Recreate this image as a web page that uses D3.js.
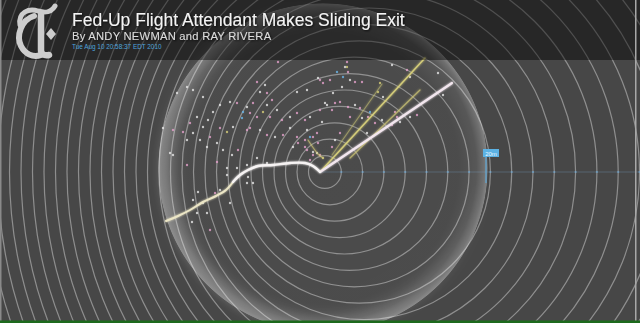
<!DOCTYPE html>
<html>
<head>
<meta charset="utf-8">
<script src="https://cdn.jsdelivr.net/npm/d3@7"></script>
<style>
html, body { margin: 0; padding: 0; background: #474747; overflow: hidden; }
svg { display: block; }
</style>
</head>
<body>
<div id="chart"></div>
<script>
//Width and height
var w = 640;
var h = 323;

//Header texts
var titleText = "Fed-Up Flight Attendant Makes Sliding Exit";
var bylineText = "By ANDY NEWMAN and RAY RIVERA";
var dateText = "Tue Aug 10 20:58:37 EDT 2010";

//Tweets: [east, north, kind] measured from the first tweet (p pink, w white, y yellow, b blue)
var tweetDots = [
    [-42,110,"p"],[-23,80,"w"],[-13,82,"w"],[3,89,"p"],[-2,94,"w"],[10,92,"p"],[17,100,"b"],[23,95,"b"],
    [27,105,"y"],[-63,90,"p"],[-55,87,"w"],[-60,80,"w"],[-53,79,"p"],[-48,72,"p"],[-53,67,"w"],[-67,69,"p"],
    [-73,65,"w"],[-83,69,"p"],[-90,70,"w"],[-77,60,"b"],[-78,54,"b"],[-70,59,"p"],[-63,55,"p"],[-57,60,"y"],
    [-50,55,"p"],[-43,62,"w"],[-38,52,"p"],[-30,55,"w"],[-23,59,"p"],[-15,52,"p"],[-10,55,"w"],[0,62,"p"],
    [7,67,"w"],[15,69,"p"],[12,62,"p"],[-70,44,"p"],[-73,42,"p"],[-60,42,"w"],[-53,37,"p"],[-45,35,"w"],
    [-37,37,"p"],[-30,44,"w"],[-23,35,"p"],[-15,32,"p"],[-10,35,"b"],[-3,39,"p"],[-22,29,"p"],[-27,25,"w"],
    [-13,22,"p"],[-7,17,"p"],[-10,12,"p"],[-3,19,"w"],[-100,67,"w"],[-107,60,"w"],[-112,52,"w"],[-117,45,"w"],
    [-123,55,"w"],[-130,49,"p"],[-137,40,"p"],[-127,39,"w"],[-120,32,"w"],[-110,35,"p"],[-103,29,"w"],[-93,40,"y"],
    [-87,45,"w"],[-127,82,"w"],[-117,75,"w"],[-133,85,"w"],[-143,79,"w"],[-147,42,"p"],[-133,32,"w"],[-113,25,"w"],
    [-97,22,"w"],[-88,17,"w"],[-82,22,"p"],[-150,19,"w"],[-157,44,"w"],[-100,44,"p"],[-13,42,"w"],
    [27,110,"p"],[25,105,"w"],[28,100,"p"],[30,92,"w"],[35,90,"p"],[42,90,"p"],[22,85,"w"],[0,92,"p"],
    [13,79,"w"],[5,69,"w"],[20,70,"p"],[28,65,"p"],[35,67,"w"],[40,64,"p"],[50,60,"b"],[48,55,"p"],
    [42,54,"w"],[55,49,"p"],[62,52,"w"],[60,89,"y"],[58,80,"y"],[63,75,"w"],[72,107,"w"],[87,102,"p"],
    [90,95,"w"],[118,99,"w"],[75,60,"p"],[77,55,"p"],[80,50,"w"],[72,47,"p"],[90,55,"w"],[97,57,"p"],
    [123,77,"w"],[-7,35,"p"],[-2,29,"p"],[-15,25,"p"],[-7,20,"w"],[0,17,"p"],[3,14,"y"],[12,25,"p"],
    [15,32,"w"],[20,39,"p"],[47,39,"w"],[30,55,"p"],[2,50,"w"],
    [-147,17,"w"],[-133,7,"p"],[-122,-20,"w"],[-127,-28,"w"],[-117,-31,"w"],[-113,-41,"w"],[-128,-50,"w"],
    [-110,-58,"p"],[-105,-21,"p"],[-100,-18,"w"],[-90,-31,"w"],[-73,-11,"w"],[-72,-5,"w"],[-67,-11,"w"],
    [-103,10,"p"],[-93,4,"w"],[-93,-3,"w"],[-83,4,"w"],[-73,7,"w"],[-63,14,"w"],[-53,9,"w"],[-123,-41,"w"]
];

//Retweet chains
var curveNear = [[0,0],[-7,6],[-15,9],[-30,9],[-47,7],[-62,6],[-72,2],[-80,-3],[-87,-10]];
var curveFar = [[-87,-10],[-94,-18],[-104,-24],[-117,-30],[-130,-38],[-142,-44],[-154,-49]];
var rayLong = [[0,0],[132,89]];
var rayHigh = [[0,0],[105,114]];
var rayMid = [[30,14],[100,82]];
var rayInner = [[12,17],[62,88]];
var rayShort = [[-12,32],[-2,18],[3,14]];

//Time marker on the east axis
var markerLabel = "20m";
var markerEast = 166;

var dotColor = {p: "#e6a2cc", w: "#e8e8e8", y: "#d8d07a", b: "#6cb6ea"};

//Scales: first tweet sits at (320,172)
var x = d3.scaleLinear().domain([-320, 320]).range([0, w]);
var y = d3.scaleLinear().domain([-151, 172]).range([h, 0]);

//Ring grid: radius and eastward drift per ring
var ringR = d3.scaleLinear().domain([0, 1]).range([0, 16.4]);
var ringDrift = d3.scaleLinear().domain([0, 1]).range([0, 4.9]);
var rings = d3.range(1, 46);
var axisTicks = d3.range(1, 16);
var tickStep = d3.scaleLinear().domain([0, 1]).range([0, 21.3]);

//Create SVG element
var svg = d3.select("#chart")
            .append("svg")
            .attr("width", w)
            .attr("height", h);

var defs = svg.append("defs");

//Lens edge: soft inner glow with a thin bright rim
var lens = defs.append("radialGradient").attr("id", "lens");
lens.append("stop").attr("offset", "0").attr("stop-color", "#fff").attr("stop-opacity", 0.02);
lens.append("stop").attr("offset", "0.82").attr("stop-color", "#fff").attr("stop-opacity", 0.025);
lens.append("stop").attr("offset", "0.93").attr("stop-color", "#fff").attr("stop-opacity", 0.09);
lens.append("stop").attr("offset", "0.975").attr("stop-color", "#fff").attr("stop-opacity", 0.22);
lens.append("stop").attr("offset", "0.995").attr("stop-color", "#fff").attr("stop-opacity", 0.32);
lens.append("stop").attr("offset", "1").attr("stop-color", "#fff").attr("stop-opacity", 0);

//Broader light on the lower left of the lens
var side = defs.append("linearGradient").attr("id", "side")
               .attr("x1", "0").attr("y1", "1").attr("x2", "1").attr("y2", "0");
side.append("stop").attr("offset", "0").attr("stop-color", "#fff").attr("stop-opacity", 0.2);
side.append("stop").attr("offset", "0.45").attr("stop-color", "#fff").attr("stop-opacity", 0.1);
side.append("stop").attr("offset", "0.75").attr("stop-color", "#fff").attr("stop-opacity", 0);

var soft = defs.append("filter").attr("id", "soft").attr("x", "-10%").attr("y", "-10%").attr("width", "120%").attr("height", "120%");
soft.append("feGaussianBlur").attr("stdDeviation", 4);

var glow = defs.append("filter").attr("id", "glow").attr("x", "-20%").attr("y", "-20%").attr("width", "140%").attr("height", "140%");
glow.append("feGaussianBlur").attr("stdDeviation", 1.2).attr("result", "b");
var gm = glow.append("feMerge");
gm.append("feMergeNode").attr("in", "b");
gm.append("feMergeNode").attr("in", "SourceGraphic");

var shadow = defs.append("filter").attr("id", "shadow");
shadow.append("feDropShadow").attr("dx", 1).attr("dy", 1).attr("stdDeviation", 0.8)
      .attr("flood-color", "#000").attr("flood-opacity", 0.8);

//Background
svg.append("rect").attr("width", w).attr("height", h).attr("fill", "#474747");

//Rings
svg.append("g")
   .selectAll("circle")
   .data(rings)
   .enter()
   .append("circle")
   .attr("cx", function(k) { return x(ringDrift(k)); })
   .attr("cy", y(0))
   .attr("r", function(k) { return ringR(k); })
   .attr("fill", "none")
   .attr("stroke", "#a0a0a0")
   .attr("stroke-width", 1.2)
   .attr("stroke-opacity", 0.8);

//Lens
var lensX = x(3), lensY = y(4), lensR = 165;
svg.append("circle")
   .attr("cx", lensX)
   .attr("cy", lensY)
   .attr("r", lensR - 8)
   .attr("fill", "none")
   .attr("stroke", "url(#side)")
   .attr("stroke-width", 16)
   .attr("filter", "url(#soft)");
svg.append("circle")
   .attr("cx", lensX)
   .attr("cy", lensY)
   .attr("r", lensR)
   .attr("fill", "url(#lens)");

//East axis
svg.append("line")
   .attr("x1", x(0)).attr("x2", w)
   .attr("y1", y(0)).attr("y2", y(0))
   .attr("stroke", "#7fb0d8")
   .attr("stroke-opacity", 0.28);

svg.append("g")
   .selectAll("rect")
   .data(axisTicks)
   .enter()
   .append("rect")
   .attr("x", function(k) { return x(tickStep(k)) - 1; })
   .attr("y", y(0) - 1)
   .attr("width", 2)
   .attr("height", 2)
   .attr("fill", "#6fb4e6")
   .attr("opacity", 0.45);

//Dots
svg.append("g")
   .selectAll("circle")
   .data(tweetDots)
   .enter()
   .append("circle")
   .attr("cx", function(d) { return x(d[0]); })
   .attr("cy", function(d) { return y(d[1]); })
   .attr("r", 1.2)
   .attr("fill", function(d) { return dotColor[d[2]]; })
   .attr("opacity", 0.8);

//Trails
var line = d3.line()
             .x(function(d) { return x(d[0]); })
             .y(function(d) { return y(d[1]); })
             .curve(d3.curveCatmullRom);

var trails = [
    {pts: rayInner, color: "#c8c274", width: 1.1, op: 0.55},
    {pts: rayMid, color: "#d0c876", width: 1.3, op: 0.7},
    {pts: rayHigh, color: "#dcd47c", width: 1.5, op: 0.9},
    {pts: rayLong, color: "#f2e6ee", width: 2.2, op: 1},
    {pts: rayShort, color: "#d8cf7a", width: 1.2, op: 0.6},
    {pts: curveFar, color: "#ece6c6", width: 2, op: 1},
    {pts: curveNear, color: "#f6f3f3", width: 2.4, op: 1}
];

svg.append("g")
   .attr("filter", "url(#glow)")
   .selectAll("path")
   .data(trails)
   .enter()
   .append("path")
   .attr("d", function(d) { return line(d.pts); })
   .attr("fill", "none")
   .attr("stroke", function(d) { return d.color; })
   .attr("stroke-width", function(d) { return d.width; })
   .attr("stroke-opacity", function(d) { return d.op; })
   .attr("stroke-linecap", "round");

//Time marker
var mx = x(markerEast);
svg.append("line")
   .attr("x1", mx).attr("x2", mx)
   .attr("y1", 156).attr("y2", 183)
   .attr("stroke", "#5aaee2")
   .attr("stroke-opacity", 0.7)
   .attr("stroke-width", 1.5);
svg.append("rect")
   .attr("x", mx - 3).attr("y", 149)
   .attr("width", 16).attr("height", 8)
   .attr("fill", "#5cb2e4");
svg.append("text")
   .attr("x", mx + 5).attr("y", 155.5)
   .attr("text-anchor", "middle")
   .attr("font-family", "Liberation Sans, Arial, sans-serif")
   .attr("font-size", 6)
   .attr("fill", "#e8f6ff")
   .text(markerLabel);

//Header
var header = svg.append("g");
header.append("rect")
      .attr("width", w).attr("height", 60)
      .attr("fill", "#000").attr("opacity", 0.44);

var logo = header.append("g")
                 .attr("fill", "none")
                 .attr("stroke", "#cdcdcd")
                 .attr("stroke-linecap", "round");
logo.append("path").attr("d", "M20,25 C18,12 29,8 38,11 C45,13 51,13 55,6").attr("stroke-width", 5);
logo.append("path").attr("d", "M34,16 C21,20 16,36 21,46 C25,54 33,58 41,55").attr("stroke-width", 6);
logo.append("path").attr("d", "M41,15 L41,50 C41,54 44,56 49,55").attr("stroke-width", 6.5);
logo.append("path").attr("d", "M51,28 L56,34 L51,40 L46,34 Z").attr("fill", "#cdcdcd").attr("stroke", "none");

header.append("text")
      .attr("x", 72).attr("y", 26.2)
      .attr("font-family", "Liberation Sans, Arial, sans-serif")
      .attr("font-size", 17.5)
      .attr("fill", "#f4f4f4")
      .attr("filter", "url(#shadow)")
      .text(titleText);

header.append("text")
      .attr("x", 72).attr("y", 40.3)
      .attr("font-family", "Liberation Sans, Arial, sans-serif")
      .attr("font-size", 11.2)
      .attr("letter-spacing", 0.25)
      .attr("fill", "#dcdcdc")
      .attr("filter", "url(#shadow)")
      .text(bylineText);

header.append("text")
      .attr("x", 72).attr("y", 48.5)
      .attr("font-family", "Liberation Sans, Arial, sans-serif")
      .attr("font-size", 6.4)
      .attr("fill", "#4ea4dc")
      .text(dateText);

//Frame edges
svg.append("rect").attr("x", 0).attr("y", 0).attr("width", 1.5).attr("height", h).attr("fill", "#8a8a8a");
svg.append("rect").attr("x", 635).attr("y", 0).attr("width", 1.5).attr("height", h).attr("fill", "#a8a8a8");
svg.append("rect").attr("x", 0).attr("y", 320.5).attr("width", w).attr("height", 2.5).attr("fill", "#1d6a1d");
</script>
</body>
</html>
